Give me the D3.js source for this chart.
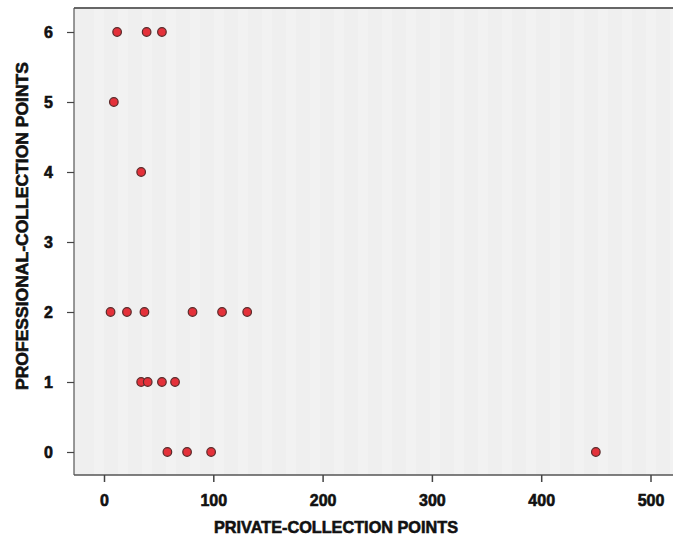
<!DOCTYPE html>
<html>
<head>
<meta charset="utf-8">
<script src="https://cdn.jsdelivr.net/npm/d3@7"></script>
<style>
  body { margin: 0; background: #fff; }
  text { font-family: "Liberation Sans", Arial, sans-serif; font-weight: bold; fill: #111; stroke: #111; stroke-width: 0.6px; }
</style>
</head>
<body>
<div id="chart"></div>
<script>
// data
const privatePoints      = [12, 39, 53, 9, 34, 6, 21, 37, 81, 108, 131, 34, 40, 53, 65, 58, 76, 98, 450]
const professionalPoints = [6, 6, 6, 5, 4, 2, 2, 2, 2, 2, 2, 1, 1, 1, 1, 0, 0, 0, 0]
const xTicks = [0, 100, 200, 300, 400, 500]
const yTicks = [0, 1, 2, 3, 4, 5, 6]

const width = 673, height = 536
const svg = d3.select("#chart").append("svg")
    .attr("width", width).attr("height", height)

const x = d3.scaleLinear().domain([0, 500]).range([104, 650.5])
const y = d3.scaleLinear().domain([0, 6]).range([452, 32])

const plot = {left: 74, top: 8, right: 690, bottom: 475}

// background with faint stripes
svg.append("rect")
    .attr("x", plot.left).attr("y", plot.top)
    .attr("width", plot.right - plot.left).attr("height", plot.bottom - plot.top)
    .attr("fill", "#efefef")

svg.selectAll(".stripe")
    .data(d3.range(plot.left + 20, plot.right, 24))
    .join("rect")
    .attr("class", "stripe")
    .attr("x", d => d).attr("y", plot.top)
    .attr("width", 10).attr("height", plot.bottom - plot.top)
    .attr("fill", "#f2f2f2")

// borders
svg.append("line").attr("x1", plot.left).attr("x2", plot.right)
    .attr("y1", plot.top).attr("y2", plot.top)
    .attr("stroke", "#666").attr("stroke-width", 2)
svg.append("line").attr("x1", plot.left).attr("x2", plot.left)
    .attr("y1", plot.top).attr("y2", plot.bottom)
    .attr("stroke", "#555").attr("stroke-width", 1.2)
svg.append("line").attr("x1", plot.left).attr("x2", plot.right)
    .attr("y1", plot.bottom).attr("y2", plot.bottom)
    .attr("stroke", "#555").attr("stroke-width", 1.5)

// axes
const xAxis = svg.append("g")
    .attr("transform", `translate(0,${plot.bottom})`)
    .call(d3.axisBottom(x).tickValues(xTicks).tickSize(7).tickPadding(13))
xAxis.select(".domain").remove()
xAxis.selectAll("line").attr("stroke", "#444").attr("stroke-width", 1.5)
xAxis.selectAll("text").style("font-size", "16px").attr("fill", "#111")

const yAxis = svg.append("g")
    .attr("transform", `translate(${plot.left},0)`)
    .call(d3.axisLeft(y).tickValues(yTicks).tickFormat(d3.format("d")).tickSize(7).tickPadding(14))
yAxis.select(".domain").remove()
yAxis.selectAll("line").attr("stroke", "#444").attr("stroke-width", 1.2)
yAxis.selectAll("text").style("font-size", "16px").attr("fill", "#111")

// points
const data = privatePoints.map((d, i) => ({px: d, py: professionalPoints[i]}))
svg.selectAll(".dot")
    .data(data)
    .join("circle")
    .attr("class", "dot")
    .attr("cx", d => x(d.px))
    .attr("cy", d => y(d.py))
    .attr("r", 4.3)
    .attr("fill", "#e4313a")
    .attr("stroke", "#5a2a2a")
    .attr("stroke-width", 1.2)

// axis titles
svg.append("text")
    .attr("x", 336).attr("y", 533)
    .attr("text-anchor", "middle")
    .attr("textLength", 244).attr("lengthAdjust", "spacingAndGlyphs")
    .style("font-size", "17px")
    .text("PRIVATE-COLLECTION POINTS")

svg.append("text")
    .attr("transform", "translate(28,226) rotate(-90)")
    .attr("text-anchor", "middle")
    .attr("textLength", 328).attr("lengthAdjust", "spacingAndGlyphs")
    .style("font-size", "17px")
    .text("PROFESSIONAL-COLLECTION POINTS")
</script>
</body>
</html>
